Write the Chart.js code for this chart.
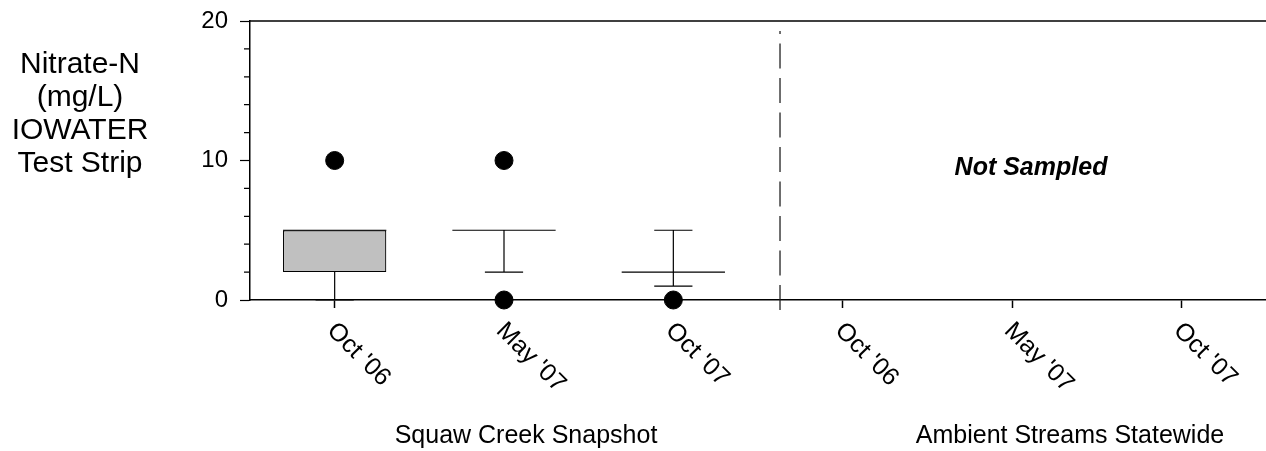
<!DOCTYPE html>
<html>
<head>
<meta charset="utf-8">
<script src="https://cdn.jsdelivr.net/npm/chart.js@4/dist/chart.umd.min.js"></script>
<style>
    html, body { margin: 0; padding: 0; background: #fff; overflow: hidden; }
    #wrap { position: relative; width: 1266px; height: 451px; }
</style>
</head>
<body>
<div id="wrap"><canvas id="boxChart"></canvas></div>
<script>
// categories and groups
const categories = ["Oct '06", "May '07", "Oct '07", "Oct '06", "May '07", "Oct '07"];
const groupLabels = ['Squaw Creek Snapshot', 'Ambient Streams Statewide'];
const yAxisLines = ['Nitrate-N', '(mg/L)', 'IOWATER', 'Test Strip'];
const yTicks = [0, 10, 20];
const minorStep = 2;

// box plot values (25th / 75th percentile, median, 10th / 90th whiskers)
const boxQ1 = [2, 5, 2, null, null, null];
const boxQ3 = [5, 5, 2, null, null, null];
const medians = [5, 5, 2, null, null, null];
const whiskerLow = [0, 2, 1, null, null, null];
const whiskerHigh = [5, 5, 5, null, null, null];
const outliersHigh = [10, 10, null, null, null, null];
const outliersLow = [null, 0, 0, null, null, null];

// separator between the two groups (category position)
const separatorAt = 2.63;
const noteText = 'Not Sampled';

const FONT = "'Liberation Sans', Arial, sans-serif";

// 箱ひげ図の描画プラグイン
const boxPlotExtras = {
    id: 'boxPlotExtras',
    afterDatasetsDraw(chart) {
        const ctx = chart.ctx;
        const xs = chart.scales.x;
        const ys = chart.scales.y;
        const area = chart.chartArea;
        const bars = chart.getDatasetMeta(0).data;

        ctx.save();
        ctx.strokeStyle = '#000';
        ctx.lineWidth = 1.2;

        // whiskers, caps, medians
        bars.forEach((bar, i) => {
            if (medians[i] == null) return;
            const x = bar.x;
            const half = bar.width / 2;
            const cap = bar.width * 0.185;
            const q1 = ys.getPixelForValue(boxQ1[i]);
            const q3 = ys.getPixelForValue(boxQ3[i]);
            const lo = ys.getPixelForValue(whiskerLow[i]);
            const hi = ys.getPixelForValue(whiskerHigh[i]);
            const md = ys.getPixelForValue(medians[i]);

            ctx.beginPath();
            ctx.moveTo(x, q1); ctx.lineTo(x, lo);
            ctx.moveTo(x - cap, lo); ctx.lineTo(x + cap, lo);
            ctx.moveTo(x, q3); ctx.lineTo(x, hi);
            ctx.moveTo(x - cap, hi); ctx.lineTo(x + cap, hi);
            ctx.moveTo(x - half, md); ctx.lineTo(x + half, md);
            ctx.stroke();
        });

        // top frame line
        ctx.lineWidth = 1.5;
        ctx.beginPath();
        ctx.moveTo(area.left, area.top);
        ctx.lineTo(area.right, area.top);
        ctx.stroke();

        // minor ticks on y axis
        ctx.lineWidth = 1.2;
        ctx.beginPath();
        for (let v = ys.min; v <= ys.max; v += minorStep) {
            if (yTicks.includes(v)) continue;
            const y = ys.getPixelForValue(v);
            ctx.moveTo(area.left - 6, y);
            ctx.lineTo(area.left, y);
        }
        ctx.stroke();

        // dashed separator
        const i0 = Math.floor(separatorAt);
        const p0 = xs.getPixelForValue(i0);
        const p1 = xs.getPixelForValue(i0 + 1);
        const sx = p0 + (separatorAt - i0) * (p1 - p0);
        ctx.strokeStyle = '#222';
        ctx.lineWidth = 1.3;
        ctx.setLineDash([25, 9.5]);
        ctx.beginPath();
        ctx.moveTo(sx, area.bottom + 10);
        ctx.lineTo(sx, area.top + 10);
        ctx.stroke();
        ctx.setLineDash([]);

        // text
        ctx.fillStyle = '#000';

        // y axis title
        ctx.font = '30px ' + FONT;
        ctx.textAlign = 'center';
        ctx.textBaseline = 'alphabetic';
        yAxisLines.forEach((line, k) => {
            ctx.fillText(line, 80, 73 + k * 33);
        });

        // rotated category labels
        ctx.font = '25px ' + FONT;
        ctx.textAlign = 'left';
        ctx.textBaseline = 'top';
        categories.forEach((label, i) => {
            const x = xs.getPixelForValue(i);
            ctx.save();
            ctx.translate(x + 5, area.bottom + 18);
            ctx.rotate(Math.PI / 4);
            ctx.fillText(label, 0, 0);
            ctx.restore();
        });

        // group labels
        ctx.font = '25px ' + FONT;
        ctx.textAlign = 'center';
        ctx.textBaseline = 'alphabetic';
        ctx.fillText(groupLabels[0], 526, 443);
        ctx.fillText(groupLabels[1], 1070, 443);

        // note
        ctx.font = 'italic bold 25px ' + FONT;
        ctx.fillText(noteText, 1031, 175);

        ctx.restore();
    }
};

const boxData = boxQ1.map((q, i) => (q == null ? null : [q, boxQ3[i]]));

const ctx = document.getElementById('boxChart').getContext('2d');
const chart = new Chart(ctx, {
    type: 'bar',
    data: {
        labels: categories,
        datasets: [
            {
                label: 'box',
                data: boxData,
                backgroundColor: '#c0c0c0',
                borderColor: '#000',
                borderWidth: 1.2,
                borderSkipped: false,
                categoryPercentage: 1,
                barPercentage: 0.61
            },
            {
                type: 'line',
                label: 'outliers high',
                data: outliersHigh,
                showLine: false,
                pointRadius: 9,
                pointBackgroundColor: '#000',
                pointBorderColor: '#000',
                clip: false
            },
            {
                type: 'line',
                label: 'outliers low',
                data: outliersLow,
                showLine: false,
                pointRadius: 9,
                pointBackgroundColor: '#000',
                pointBorderColor: '#000',
                clip: false
            }
        ]
    },
    options: {
        responsive: true,
        maintainAspectRatio: false,
        animation: false,
        layout: { autoPadding: false, padding: { top: 21, right: 0, left: 0, bottom: 0 } },
        plugins: {
            legend: { display: false },
            tooltip: { enabled: false }
        },
        scales: {
            x: {
                type: 'category',
                offset: true,
                ticks: { display: false },
                grid: {
                    drawOnChartArea: false,
                    offset: false,
                    tickLength: 8,
                    tickColor: '#000',
                    tickWidth: 1.5
                },
                border: { color: '#000', width: 1.5 },
                afterFit: function(scale) { scale.height = 151; }
            },
            y: {
                min: 0,
                max: 20,
                afterBuildTicks: function(scale) {
                    scale.ticks = yTicks.map(v => ({ value: v }));
                },
                ticks: {
                    color: '#000',
                    font: { family: FONT, size: 24 },
                    padding: 12
                },
                grid: {
                    drawOnChartArea: false,
                    tickLength: 10,
                    tickColor: '#000',
                    tickWidth: 1.2
                },
                border: { color: '#000', width: 1.5 },
                afterFit: function(scale) {
                    scale.width = 250;
                    scale.paddingTop = 0;
                    scale.paddingBottom = 0;
                }
            }
        }
    },
    plugins: [boxPlotExtras]
});
</script>
</body>
</html>
